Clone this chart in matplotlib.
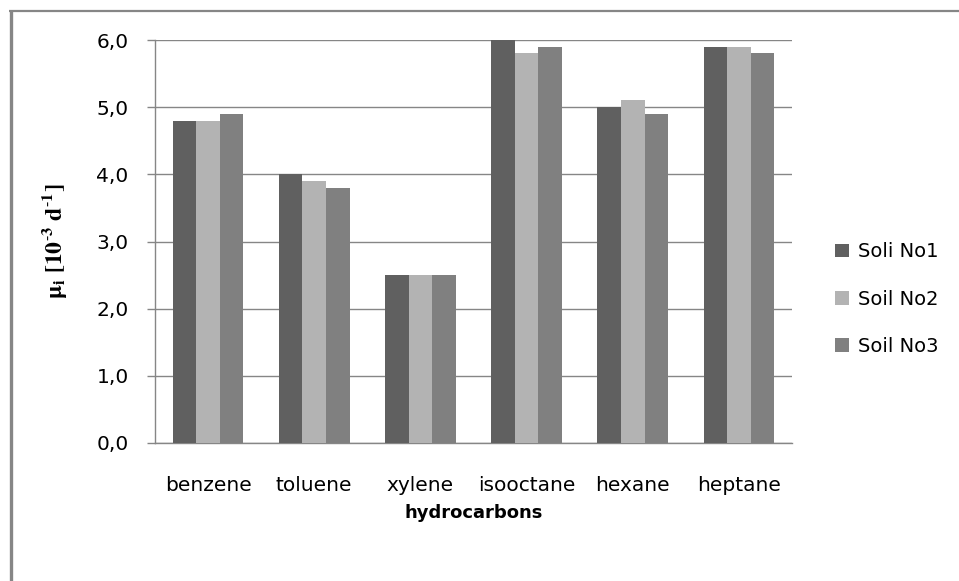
import matplotlib
matplotlib.use("Agg")
import matplotlib.pyplot as plt
from matplotlib.lines import Line2D
import numpy as np

categories = ["benzene", "toluene", "xylene", "isooctane", "hexane", "heptane"]
series_names = ["Soli No1", "Soil No2", "Soil No3"]
soil1 = [4.8, 4.0, 2.5, 6.0, 5.0, 5.9]
soil2 = [4.8, 3.9, 2.5, 5.8, 5.1, 5.9]
soil3 = [4.9, 3.8, 2.5, 5.9, 4.9, 5.8]
yticks = [0.0, 1.0, 2.0, 3.0, 4.0, 5.0, 6.0]
ytick_labels = ["0,0", "1,0", "2,0", "3,0", "4,0", "5,0", "6,0"]

colors = ["#606060", "#b3b3b3", "#808080"]
grid_c = "#868686"

plt.rcParams["font.family"] = ["DejaVu Sans"]
plt.rcParams["mathtext.fontset"] = "stix"

W, H = 959, 581
fig = plt.figure(figsize=(W / 100, H / 100), dpi=100)
fig.patch.set_facecolor("white")

ax = fig.add_axes([155 / W, 1 - 443 / H, (792 - 155) / W, (443 - 40) / H])

x = np.arange(len(categories))
bw = 1 / 4.5
for i, (vals, name) in enumerate(zip([soil1, soil2, soil3], series_names)):
    ax.bar(x + (i - 1) * bw, vals, width=bw, color=colors[i], label=name, zorder=3)

ax.set_xlim(-0.5, len(categories) - 0.5)
ax.set_ylim(0, 6)
ax.set_yticks(yticks)
ax.set_yticklabels(ytick_labels)
ax.set_xticks(x)
ax.set_xticklabels(categories)

ax.yaxis.grid(True, color=grid_c, linewidth=1.0, zorder=0)
ax.set_axisbelow(True)
for s in ["top", "right"]:
    ax.spines[s].set_visible(False)
for s in ["left", "bottom"]:
    ax.spines[s].set_color(grid_c)
    ax.spines[s].set_linewidth(1.0)

ax.tick_params(axis="y", length=6, width=1.0, color=grid_c, pad=13,
               labelsize=14.5, labelcolor="#000000")
ax.tick_params(axis="x", length=0, pad=24, labelsize=14.5, labelcolor="#000000")

ax.set_xlabel("hydrocarbons", fontsize=13, fontweight="bold", labelpad=6)
ax.set_ylabel(r"$\mathbf{\mu_i\ [10^{\text{-}3}\ d^{\text{-}1}]}$", fontsize=17, labelpad=20)

leg = ax.legend(loc="center left", bbox_to_anchor=(1.04, 0.357), frameon=False,
                fontsize=14, handlelength=0.7, handleheight=0.7,
                handletextpad=0.5, labelspacing=1.45)

# outer frame on the left and top edges
fig.add_artist(Line2D([10.5 / W, 10.5 / W], [0, 1 - 10 / H], transform=fig.transFigure,
                      color=grid_c, linewidth=2.4, solid_capstyle="butt"))
fig.add_artist(Line2D([9 / W, 1], [1 - 10.5 / H, 1 - 10.5 / H], transform=fig.transFigure,
                      color=grid_c, linewidth=1.6, solid_capstyle="butt"))

fig.savefig("out.png", dpi=100, facecolor="white")
